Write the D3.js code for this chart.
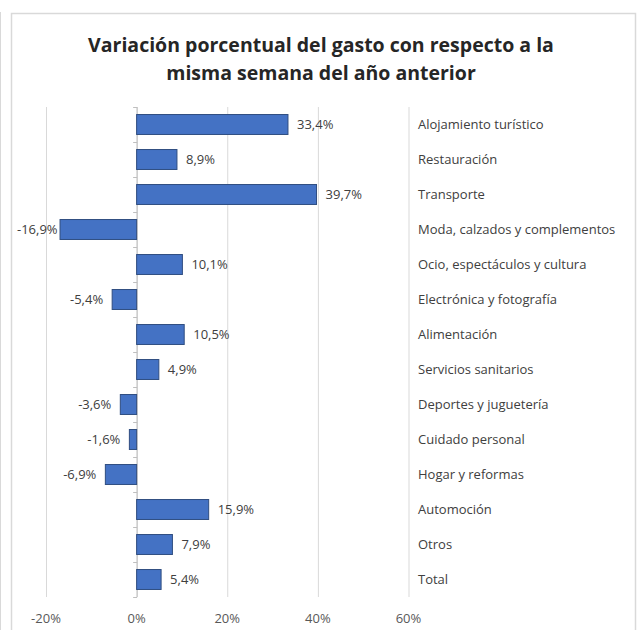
<!DOCTYPE html>
<html>
<head>
<meta charset="utf-8">
<script src="https://cdn.jsdelivr.net/npm/d3@7"></script>
<style>
  body { margin: 0; background: #fff; }
  svg { display: block; }
  text { font-family: "Open Sans", "Liberation Sans", sans-serif; }
</style>
</head>
<body>
<svg id="chart"></svg>
<script>
// Chart data
const categories = [
  "Alojamiento turístico",
  "Restauración",
  "Transporte",
  "Moda, calzados y complementos",
  "Ocio, espectáculos y cultura",
  "Electrónica y fotografía",
  "Alimentación",
  "Servicios sanitarios",
  "Deportes y juguetería",
  "Cuidado personal",
  "Hogar y reformas",
  "Automoción",
  "Otros",
  "Total"
];
const values = [33.4, 8.9, 39.7, -16.9, 10.1, -5.4, 10.5, 4.9, -3.6, -1.6, -6.9, 15.9, 7.9, 5.4];
const xTicks = [-20, 0, 20, 40, 60];
const titleLines = [
  "Variación porcentual del gasto con respecto a la",
  "misma semana del año anterior"
];

const W = 639, H = 630;
const svg = d3.select("#chart").attr("width", W).attr("height", H);

// Outer frames
svg.append("line")
    .attr("x1", 0.5).attr("x2", 0.5).attr("y1", 12).attr("y2", H)
    .attr("stroke", "#d9d9d9");
svg.append("path")
    .attr("d", `M11.5,${H} V13.5 H635.5 V${H}`)
    .attr("fill", "none")
    .attr("stroke", "#d9d9d9")
    .attr("stroke-width", 1.5);

// Title
svg.append("g").selectAll("text")
  .data(titleLines)
  .join("text")
    .attr("x", 321)
    .attr("y", (d, i) => 52 + i * 28)
    .attr("text-anchor", "middle")
    .attr("font-size", 19.5)
    .attr("font-weight", "bold")
    .attr("fill", "#262626")
    .text(d => d);

// Scales
const x = d3.scaleLinear().domain([-20, 60]).range([46, 408.5]);
const y = d3.scaleBand().domain(categories).range([107, 597]).paddingInner(0.43).paddingOuter(0.215);
const yStep = d3.scaleBand().domain(categories).range([107, 597]);

// Spanish style: comma decimal, plain hyphen for negatives
const fmt = v => (v < 0 ? "-" : "") + Math.abs(v).toFixed(1).replace(".", ",") + "%";

// Gridlines
svg.append("g").selectAll("line")
  .data(xTicks)
  .join("line")
    .attr("x1", d => x(d) + 0.5).attr("x2", d => x(d) + 0.5)
    .attr("y1", 107).attr("y2", 597)
    .attr("stroke", "#d9d9d9");

// X tick labels
svg.append("g").selectAll("text")
  .data(xTicks)
  .join("text")
    .attr("x", d => x(d))
    .attr("y", 623)
    .attr("text-anchor", "middle")
    .attr("font-size", 13)
    .attr("fill", "#595959")
    .text(d => d + "%");

// Vertical category axis at zero
const axisX = x(0) + 0.5;
svg.append("line")
    .attr("x1", axisX).attr("x2", axisX).attr("y1", 107).attr("y2", 597)
    .attr("stroke", "#bfbfbf");
svg.append("g").selectAll("line")
  .data(d3.range(categories.length + 1))
  .join("line")
    .attr("x1", axisX - 4).attr("x2", axisX)
    .attr("y1", i => 107 + i * yStep.bandwidth() + 0.5)
    .attr("y2", i => 107 + i * yStep.bandwidth() + 0.5)
    .attr("stroke", "#bfbfbf");

// Bars
svg.append("g").selectAll("rect")
  .data(values)
  .join("rect")
    .attr("x", d => x(Math.min(0, d)))
    .attr("y", (d, i) => y(categories[i]))
    .attr("width", d => Math.abs(x(d) - x(0)))
    .attr("height", y.bandwidth())
    .attr("fill", "#4472c4")
    .attr("stroke", "#2f4d80")
    .attr("stroke-width", 1);

// Value labels
svg.append("g").selectAll("text")
  .data(values)
  .join("text")
    .attr("y", (d, i) => y(categories[i]) + y.bandwidth() / 2)
    .attr("dy", "0.35em")
    .attr("font-size", 13)
    .attr("fill", "#404040")
    .text(d => fmt(d))
    .each(function(d) {
      const t = d3.select(this);
      if (d >= 0) {
        t.attr("x", x(d) + 9).attr("text-anchor", "start");
      } else {
        const w = this.getComputedTextLength();
        const end = Math.max(x(d) - 9, 17 + w);
        t.attr("x", end).attr("text-anchor", "end");
      }
    });

// Category labels on the right
svg.append("g").selectAll("text")
  .data(categories)
  .join("text")
    .attr("x", 418)
    .attr("y", d => y(d) + y.bandwidth() / 2)
    .attr("dy", "0.35em")
    .attr("font-size", 13)
    .attr("fill", "#404040")
    .text(d => d);
</script>
</body>
</html>
